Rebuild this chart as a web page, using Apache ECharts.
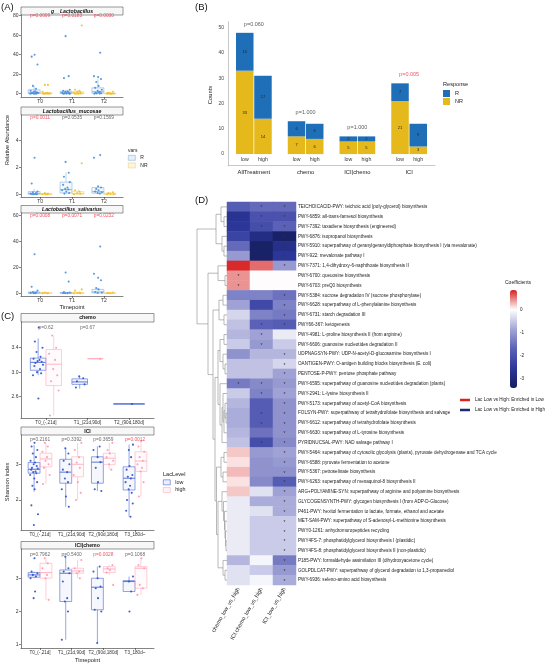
<!DOCTYPE html>
<html><head><meta charset="utf-8">
<script src="https://cdn.jsdelivr.net/npm/echarts@6/dist/echarts.min.js"></script>
<style>html,body{margin:0;padding:0;background:#fff}#c{width:560px;height:665px}</style>
</head><body><div id="c"></div>
<script>
// ================= DATA =================
// Panel A
const timepointsA = ['T0', 'T1', 'T2'];
const lacR_box  = [[0, 0.2, 1, 4, 8], [0, 0.2, 1, 2.5, 4], [0, 0.5, 2, 6, 15]];
const lacNR_box = [[0, 0, 0.2, 1, 2], [0, 0, 0.5, 2, 4], [0, 0, 0.1, 0.5, 1]];
const lacR_pts  = [[40, 38, 30, 8, 5, 3, 2.5, 2, 1.5, 1, 0.8, 0.5, 0.3, 0.2, 0.1, 0, 0],
                   [59, 18, 16, 4, 3, 2.5, 2, 1.5, 1, 0.5, 0.3, 0.2, 0.1, 0, 0],
                   [42, 18, 17, 15, 12, 8, 6, 4, 3, 2, 1.5, 1, 0.5, 0.3, 0.1, 0]];
const lacNR_pts = [[9, 9, 2, 1, 0.5, 0.3, 0.2, 0.1, 0, 0, 0],
                   [70, 4, 3, 2, 1.5, 1, 0.5, 0.3, 0.1, 0, 0],
                   [2, 1, 0.5, 0.3, 0.2, 0.1, 0, 0, 0]];
const lacP = ['p=0.0009', 'p=0.0183', 'p=0.0030'];
const lacPsig = [1, 1, 1];

const mucR_box  = [[0, 0.01, 0.05, 0.2, 0.4], [0, 0.1, 0.35, 0.9, 1.6], [0, 0.08, 0.2, 0.5, 0.6]];
const mucNR_box = [[0, 0, 0.01, 0.05, 0.1], [0, 0.01, 0.05, 0.2, 0.4], [0, 0, 0.02, 0.08, 0.15]];
const mucR_pts  = [[2.7, 0.8, 0.2, 0.15, 0.1, 0.05, 0.02, 0, 0, 0],
                   [2.4, 1.6, 1.3, 0.9, 0.7, 0.5, 0.4, 0.35, 0.3, 0.2, 0.1, 0.05],
                   [2.9, 2.7, 0.6, 0.5, 0.4, 0.3, 0.2, 0.15, 0.1, 0.05]];
const mucNR_pts = [[0.1, 0.05, 0.02, 0, 0], [2.3, 0.3, 0.2, 0.1, 0.05, 0], [0.15, 0.1, 0.05, 0, 0]];
const mucP = ['p=0.0011', 'p=0.0535', 'p=0.1569'];
const mucPsig = [1, 0, 0];

const salR_box  = [[0, 0, 0.3, 1, 2], [0, 0, 0.2, 0.5, 1], [0, 0.2, 1, 3, 4]];
const salNR_box = [[0, 0, 0.05, 0.2, 0.5], [0, 0, 0.1, 0.5, 1], [0, 0, 0.05, 0.2, 0.5]];
const salR_pts  = [[30, 5, 2, 1, 0.5, 0.3, 0.1, 0], [16, 9, 1, 0.5, 0.2, 0.1, 0], [36, 15, 12, 10, 4, 3, 1, 0.5, 0.2]];
const salNR_pts = [[0.5, 0.2, 0.1, 0], [3, 2, 0.5, 0.2, 0.1, 0], [0.5, 0.2, 0.1, 0]];
const salP = ['p=0.0008', 'p=0.0071', 'p=0.0232'];
const salPsig = [1, 1, 1];

// Panel C
const timepointsC3 = ['T0_(-,21d]', 'T1_(21d,90d]', 'T2_(90d,180d]'];
const timepointsC4 = ['T0_(-,21d]', 'T1_(21d,90d]', 'T2_(90d,180d]', 'T3_180d~'];
const chemoLow_box  = [[2.95, 3.03, 3.16, 3.23, 3.55], [2.73, 2.8, 2.84, 2.89, 2.93], [2.48, 2.48, 2.48, 2.48, 2.48]];
const chemoHigh_box = [[2.29, 2.78, 3.13, 3.37, 3.6], [3.22, 3.22, 3.22, 3.22, 3.22], null];
const chemoLow_pts  = [[3.73, 3.5, 3.4, 3.33, 3.25, 3.22, 3.2, 3.18, 3.17, 3.15, 3.12, 3.1, 3.05, 3.0, 2.98, 2.95, 2.57],
                       [2.93, 2.9, 2.85, 2.8, 2.75], [2.48]];
const chemoHigh_pts = [[3.6, 3.4, 3.3, 3.2, 3.05, 2.95, 2.85, 2.7, 2.29], [3.22], []];
const chemoP = ['p=0.62', 'p=0.67'];
const chemoPsig = [0, 0];

const iciLow_box  = [[2.23, 2.75, 2.86, 3.05, 3.54], [1.81, 2.47, 2.78, 3.14, 3.45], [2.25, 2.47, 3.06, 3.21, 3.5], [1.53, 2.28, 2.61, 2.93, 3.55]];
const iciHigh_box = [[2.45, 2.93, 3.15, 3.31, 3.6], [2.0, 2.65, 3.0, 3.21, 3.6], [2.85, 2.99, 3.17, 3.31, 3.6], [2.1, 2.8, 3.09, 3.35, 3.65]];
const iciLow_pts  = [[3.6, 3.5, 3.4, 3.3, 3.2, 3.1, 3.05, 3.0, 2.95, 2.9, 2.88, 2.85, 2.8, 2.78, 2.75, 2.7, 2.6, 2.5, 2.4, 2.3, 1.85, 1.6, 1.3],
                     [3.45, 3.3, 3.1, 3.0, 2.85, 2.78, 2.6, 2.5, 2.3, 2.1, 1.81],
                     [3.5, 3.4, 3.2, 3.06, 2.9, 2.5, 2.3, 2.25],
                     [3.55, 3.4, 3.2, 2.95, 2.85, 2.7, 2.65, 2.6, 2.5, 2.4, 2.3, 2.2, 2.0, 1.9, 1.7, 1.53]];
const iciHigh_pts = [[3.6, 3.5, 3.35, 3.2, 3.1, 3.0, 2.9, 2.7, 2.45],
                     [3.6, 3.4, 3.2, 3.05, 2.9, 2.7, 2.5, 2.2, 2.0],
                     [3.6, 3.4, 3.3, 3.2, 3.1, 3.0, 2.85],
                     [3.65, 3.5, 3.35, 3.2, 3.1, 3.0, 2.9, 2.8, 2.5, 2.1]];
const iciP = ['p=0.2161', 'p=0.3392', 'p=0.3659', 'p=0.0012'];
const iciPsig = [0, 0, 0, 1];

const icichLow_box  = [[3.0, 3.03, 3.1, 3.17, 3.2], [1.15, 2.3, 3.15, 3.25, 3.65], [1.05, 2.05, 2.73, 3.0, 3.35], [2.6, 2.6, 2.9, 2.93, 3.05]];
const icichHigh_box = [[2.35, 3.0, 3.17, 3.45, 3.6], [3.0, 3.15, 3.22, 3.3, 3.55], [3.1, 3.17, 3.28, 3.35, 3.4], [2.5, 2.7, 3.3, 3.35, 3.6]];
const icichLow_pts  = [[3.6, 3.2, 3.15, 3.1, 3.05, 3.0, 2.6, 2.4],
                       [3.65, 3.3, 3.2, 3.15, 2.9, 2.4, 2.3, 2.0, 1.15],
                       [3.35, 3.2, 3.0, 2.75, 2.7, 2.4, 2.05, 2.0, 1.05],
                       [3.05, 2.9, 2.6, 2.0]];
const icichHigh_pts = [[3.6, 3.45, 3.3, 3.1, 3.0, 2.35], [3.55, 3.3, 3.2, 3.15, 3.0], [3.4, 3.3, 3.25, 3.17, 2.8], [3.6, 3.4, 3.3, 2.8, 2.7, 2.5]];
const icichP = ['p=0.7962', 'p=0.5400', 'p=0.0028', 'p=0.1068'];
const icichPsig = [0, 0, 1, 0];

// Panel B
const treatGroups = ['AllTreatment', 'chemo', 'ICI|chemo', 'ICI'];
const nrLow  = [33, 7, 5, 21];
const rLow   = [15, 6, 2, 7];
const nrHigh = [14, 6, 5, 3];
const rHigh  = [17, 6, 2, 9];
const pB = ['p=0.060', 'p=1.000', 'p=1.000', 'p=0.005'];
const pBsig = [0, 0, 0, 1];
const countTicks = [0, 10, 20, 30, 40, 50];

// Panel D
const contrasts = ['chemo_low_vs_high', 'ICI.chemo_low_vs_high', 'ICI_low_vs_high'];
const pathways = [
 'TEICHOICACID-PWY: teichoic acid (poly-glycerol) biosynthesis',
 'PWY-6859: all-trans-farnesol biosynthesis',
 'PWY-7392: taxadiene biosynthesis (engineered)',
 'PWY-6876: isopropanol biosynthesis',
 'PWY-5910: superpathway of geranylgeranyldiphosphate biosynthesis I (via mevalonate)',
 'PWY-922: mevalonate pathway I',
 'PWY-7371: 1,4-dihydroxy-6-naphthoate biosynthesis II',
 'PWY-6700: queuosine biosynthesis',
 'PWY-6703: preQ0 biosynthesis',
 'PWY-5384: sucrose degradation IV (sucrose phosphorylase)',
 'PWY-6628: superpathway of L-phenylalanine biosynthesis',
 'PWY-6731: starch degradation III',
 'PWY66-367: ketogenesis',
 'PWY-4981: L-proline biosynthesis II (from arginine)',
 'PWY-6606: guanosine nucleotides degradation II',
 'UDPNAGSYN-PWY: UDP-N-acetyl-D-glucosamine biosynthesis I',
 'OANTIGEN-PWY: O-antigen building blocks biosynthesis (E. coli)',
 'PENTOSE-P-PWY: pentose phosphate pathway',
 'PWY-6595: superpathway of guanosine nucleotides degradation (plants)',
 'PWY-2941: L-lysine biosynthesis II',
 'PWY-5173: superpathway of acetyl-CoA biosynthesis',
 'FOLSYN-PWY: superpathway of tetrahydrofolate biosynthesis and salvage',
 'PWY-6612: superpathway of tetrahydrofolate biosynthesis',
 'PWY-6630: superpathway of L-tyrosine biosynthesis',
 'PYRIDNUCSAL-PWY: NAD salvage pathway I',
 'PWY-5464: superpathway of cytosolic glycolysis (plants), pyruvate dehydrogenase and TCA cycle',
 'PWY-6588: pyruvate fermentation to acetone',
 'PWY-5367: petroselinate biosynthesis',
 'PWY-6263: superpathway of menaquinol-8 biosynthesis II',
 'ARG+POLYAMINE-SYN: superpathway of arginine and polyamine biosynthesis',
 'GLYCOGENSYNTH-PWY: glycogen biosynthesis I (from ADP-D-Glucose)',
 'P461-PWY: hexitol fermentation to lactate, formate, ethanol and acetate',
 'MET-SAM-PWY: superpathway of S-adenosyl-L-methionine biosynthesis',
 'PWY0-1261: anhydromuropeptides recycling',
 'PWY4FS-7: phosphatidylglycerol biosynthesis I (plastidic)',
 'PWY4FS-8: phosphatidylglycerol biosynthesis II (non-plastidic)',
 'P185-PWY: formaldehyde assimilation III (dihydroxyacetone cycle)',
 'GOLPDLCAT-PWY: superpathway of glycerol degradation to 1,3-propanediol',
 'PWY-6936: seleno-amino acid biosynthesis'
];
const coefChemo    = [-1.8,-2.7,-2.6,-2.3,-1.6,-1.0,0.8,0.4,0.4,-1.3,-0.9,-0.4,-0.6,-0.7,-0.5,-1.1,-0.6,-0.6,-1.4,-0.5,-0.7,-0.8,-0.8,-0.7,-0.6,0.2,0.1,0.25,0.1,0.2,-0.2,-0.2,-0.2,-0.2,-0.2,-0.2,-0.7,-0.3,-0.3];
const coefICIchemo = [-1.6,-2.0,-2.1,-2.9,-3.3,-3.3,0.55,0,0,-1.3,-2.2,-1.3,-1.7,-0.9,-1.0,-0.7,-0.6,-0.6,-1.2,-1.3,-1.8,-1.8,-1.8,-1.5,-2.1,-1.0,-1.1,-1.1,-1.2,-0.3,-0.8,-0.3,-0.5,-0.5,-0.5,-0.5,-0.1,-0.5,-0.1];
const coefICI      = [-1.6,-2.0,-1.7,-3.3,-2.8,-2.6,-1.0,0,0,-1.5,-1.3,-1.4,-1.8,-0.2,-0.5,-0.7,-0.4,-0.9,-1.0,-0.9,-1.1,-1.1,-1.1,-1.1,-1.2,-0.9,-1.0,-1.1,-1.8,-0.9,-0.8,-0.8,-0.5,-0.5,-0.5,-0.5,-1.4,-1.0,-0.8];
const sigMarks = ['011','011','011','011','011','011','001','100','100','001','001','001','011','010','010','001','001','001','111','011','001','011','011','001','011','001','001','001','001','001','001','001','001','001','001','001','001','001','001'];
const coefTicks = [0, -1, -2, -3];
// hierarchical clustering merges: negative = leaf (row index + 1), positive = earlier merge (1-based), then height
const dendroMerges = [
 [-2,-3,3],[-1,1,6],[-5,-6,3],[-4,3,5],[2,4,11],[-8,-9,2],[-7,6,9],[-10,-11,4],[-12,-13,3],[8,9,8],
 [-14,-15,3],[-17,-18,2],[-16,12,4],[11,13,7],[-22,-23,1],[-21,15,2],[16,-24,3],[-20,17,4],[18,-25,5],[-19,19,7],
 [14,20,9],[-26,-27,3],[-28,-29,4],[22,23,6],[-35,-36,1],[-34,25,1.5],[-33,26,2],[-32,27,2.5],[-31,28,3.5],[-30,29,5],
 [-38,-39,2],[-37,31,4],[30,32,9],[24,33,10.5],[21,34,12],[10,35,14],[7,36,19],[5,37,30]
];

// ================= BUILD =================
const FONT = 'Liberation Sans, Arial, sans-serif';
const JITTER = [0.1,-0.6,0.8,-0.3,0.45,-0.85,0.25,-0.1,0.65,-0.5,0.9,-0.7,0.35,-0.2,0.55,-0.95,0.05,0.75,-0.4,0.15,-0.65,0.95,-0.05,0.5];
const STY = {
  R:   {stroke:'#86b6e3', fill:'rgba(134,182,227,0.10)', pt:'#4a8fd8'},
  NR:  {stroke:'#f3d36e', fill:'rgba(243,211,110,0.10)', pt:'#f2c02c'},
  low: {stroke:'#4a68d8', fill:'rgba(74,104,216,0.05)', pt:'#2d50c8'},
  high:{stroke:'#ffadbd', fill:'rgba(255,173,189,0.06)', pt:'#ff98ad'}
};
const grids = [], xAxes = [], yAxes = [], series = [], graphics = [], legends = [];
function addGrid(r) { grids.push(Object.assign({containLabel:false}, r)); return grids.length - 1; }

function boxRender(dodge, halfW, st) {
  return function (params, api) {
    const solo = api.value(6) === 1;
    const d = solo ? 0 : dodge, w = solo ? halfW * 2 : halfW;
    const cx = api.value(0) + d;
    const tl = api.coord([cx - w, api.value(4)]);
    const br = api.coord([cx + w, api.value(2)]);
    const md = api.coord([cx, api.value(3)]);
    const wMax = api.coord([cx, api.value(5)]);
    const wMin = api.coord([cx, api.value(1)]);
    const ls = {stroke: st.stroke, lineWidth: 0.6};
    return {type:'group', children:[
      {type:'line', shape:{x1:wMax[0], y1:wMax[1], x2:wMax[0], y2:tl[1]}, style:ls},
      {type:'line', shape:{x1:wMin[0], y1:wMin[1], x2:wMin[0], y2:br[1]}, style:ls},
      {type:'rect', shape:{x:tl[0], y:tl[1], width:br[0]-tl[0], height:Math.max(br[1]-tl[1], 0)}, style:{fill:st.fill, stroke:st.stroke, lineWidth:0.6}},
      {type:'line', shape:{x1:tl[0], y1:md[1], x2:br[0], y2:md[1]}, style:{stroke:st.stroke, lineWidth:0.9}}
    ]};
  };
}

function boxPanel(cfg) {
  const g = addGrid({left:cfg.left, top:cfg.top, width:cfg.width, height:cfg.height});
  const n = cfg.cats.length, idx = cfg.cats.map((_, i) => i);
  const xi = xAxes.length, yi = yAxes.length;
  xAxes.push({gridIndex:g, type:'value', min:-0.6, max:n-0.4, splitLine:{show:false},
    axisLine:{show:true, onZero:false, lineStyle:{color:'#333', width:0.6}},
    axisTick:{show:true, customValues:idx, length:2, lineStyle:{color:'#333', width:0.6}},
    axisLabel:{customValues:idx, formatter:v => cfg.cats[Math.round(v)], fontSize:cfg.xFont, color:'#333', margin:2.5, fontFamily:FONT},
    name:cfg.xName || '', nameLocation:'middle', nameGap:cfg.xNameGap || 8, nameTextStyle:{fontSize:5.8, color:'#222', fontFamily:FONT}});
  yAxes.push({gridIndex:g, type:'value', min:cfg.yMin, max:cfg.yMax, splitLine:{show:false},
    axisLine:{show:true, onZero:false, lineStyle:{color:'#333', width:0.6}},
    axisTick:{show:true, customValues:cfg.yTicks, length:2, lineStyle:{color:'#333', width:0.6}},
    axisLabel:{customValues:cfg.yTicks, formatter:v => cfg.yFmt(v), fontSize:5, color:'#333', margin:2.5, fontFamily:FONT}});
  graphics.push({type:'rect', shape:{x:cfg.left, y:cfg.top-cfg.stripH, width:cfg.width, height:cfg.stripH}, style:{fill:'#f7f7f7', stroke:'#555', lineWidth:0.6}});
  graphics.push({type:'text', x:cfg.left+cfg.width/2, y:cfg.top-cfg.stripH/2+0.3, style:{text:cfg.strip, fontFamily:FONT, fontSize:5.2, fontWeight:'bold', fontStyle:cfg.italic ? 'italic' : 'normal', fill:'#111', textAlign:'center', textVerticalAlign:'middle'}});
  cfg.groups.forEach((grp, gi) => {
    const other = cfg.groups[1 - gi];
    const dodge = (gi === 0 ? -1 : 1) * 0.1875;
    const boxData = [];
    grp.box.forEach((b, i) => { if (b) boxData.push([i, b[0], b[1], b[2], b[3], b[4], other.box[i] ? 0 : 1]); });
    series.push({type:'custom', name:grp.name, xAxisIndex:xi, yAxisIndex:yi, renderItem:boxRender(dodge, 0.1875, grp.st),
      data:boxData, encode:{x:0, y:[1,2,3,4,5]}, clip:false, z:2, silent:true, itemStyle:{color:grp.st.stroke}});
    const pts = [];
    grp.pts.forEach((arr, i) => {
      const d = other.box[i] ? dodge : 0;
      arr.forEach((v, k) => pts.push([i + d + JITTER[(k + i * 7 + gi * 3) % JITTER.length] * 0.13, v]));
    });
    series.push({type:'scatter', name:grp.name, xAxisIndex:xi, yAxisIndex:yi, data:pts, symbolSize:2.1,
      itemStyle:{color:grp.st.pt, opacity:0.9}, z:3, silent:true});
  });
  series.push({type:'scatter', xAxisIndex:xi, yAxisIndex:yi, symbolSize:0, silent:true, z:4,
    data:cfg.pvals.map((p, i) => ({value:[i, cfg.pY], label:{color:cfg.psig[i] ? '#e8283c' : '#444'}})),
    label:{show:true, position:'inside', formatter:p => cfg.pvals[p.dataIndex], fontSize:4.8, fontFamily:FONT}});
}

const f0 = v => String(Math.round(v));
const f1 = v => v.toFixed(1);
// Panel A
boxPanel({left:21, top:15, width:102, height:82, stripH:8, strip:'g__Lactobacillus', italic:true, cats:timepointsA, xFont:5,
  yMin:-3.4, yMax:80.7, yTicks:[0,20,40,60,80], yFmt:f0, pvals:lacP, psig:lacPsig, pY:79.7,
  groups:[{name:'R', st:STY.R, box:lacR_box, pts:lacR_pts}, {name:'NR', st:STY.NR, box:lacNR_box, pts:lacNR_pts}]});
boxPanel({left:21, top:115, width:102, height:82, stripH:8, strip:'Lactobacillus_mucosae', italic:true, cats:timepointsA, xFont:5,
  yMin:-0.2, yMax:5.87, yTicks:[0,2,4], yFmt:f0, pvals:mucP, psig:mucPsig, pY:5.65,
  groups:[{name:'R', st:STY.R, box:mucR_box, pts:mucR_pts}, {name:'NR', st:STY.NR, box:mucNR_box, pts:mucNR_pts}]});
boxPanel({left:21, top:213, width:102, height:83, stripH:7.5, strip:'Lactobacillus_salivarius', italic:true, cats:timepointsA, xFont:5,
  yMin:-2.1, yMax:61.8, yTicks:[0,20,40,60], yFmt:f0, pvals:salP, psig:salPsig, pY:59.5, xName:'Timepoint', xNameGap:8.5,
  groups:[{name:'R', st:STY.R, box:salR_box, pts:salR_pts}, {name:'NR', st:STY.NR, box:salNR_box, pts:salNR_pts}]});
// Panel C
boxPanel({left:21, top:322, width:133, height:96, stripH:8.5, strip:'chemo', cats:timepointsC3, xFont:4.6,
  yMin:2.25, yMax:3.82, yTicks:[2.6,3.0,3.4], yFmt:f1, pvals:chemoP, psig:chemoPsig, pY:3.73,
  groups:[{name:'low', st:STY.low, box:chemoLow_box, pts:chemoLow_pts}, {name:'high', st:STY.high, box:chemoHigh_box, pts:chemoHigh_pts}]});
boxPanel({left:21, top:435, width:133, height:95, stripH:8, strip:'ICI', cats:timepointsC4, xFont:4.6,
  yMin:1.16, yMax:3.82, yTicks:[2,3], yFmt:f0, pvals:iciP, psig:iciPsig, pY:3.68,
  groups:[{name:'low', st:STY.low, box:iciLow_box, pts:iciLow_pts}, {name:'high', st:STY.high, box:iciHigh_box, pts:iciHigh_pts}]});
boxPanel({left:21, top:549, width:133, height:99, stripH:7.5, strip:'ICI|chemo', cats:timepointsC4, xFont:4.6,
  yMin:0.9, yMax:3.88, yTicks:[1,2,3], yFmt:f0, pvals:icichP, psig:icichPsig, pY:3.7, xName:'Timepoint', xNameGap:9.5,
  groups:[{name:'low', st:STY.low, box:icichLow_box, pts:icichLow_pts}, {name:'high', st:STY.high, box:icichHigh_box, pts:icichHigh_pts}]});

// Panel B
const BLUE = '#1f6fb8', YEL = '#e5b81c';
const gB = addGrid({left:228, top:21.7, width:207, height:144});
const xB = xAxes.length, yB = yAxes.length;
xAxes.push({gridIndex:gB, type:'category', data:treatGroups, axisLine:{onZero:false, lineStyle:{color:'#bbb', width:0.8}}, axisTick:{show:false},
  axisLabel:{interval:0, fontSize:5.8, color:'#222', margin:4, fontFamily:FONT}});
yAxes.push({gridIndex:gB, type:'value', min:-4.6, max:52.4, splitLine:{show:false}, axisLine:{show:true, lineStyle:{color:'#bbb', width:0.8}},
  axisTick:{show:false}, axisLabel:{customValues:countTicks, fontSize:5, color:'#444', margin:4, fontFamily:FONT}});
const barLabel = {show:true, position:'inside', fontSize:4, color:'#222', fontFamily:FONT};
const lvlLabel = (txt) => ({type:'bar', stack:txt, xAxisIndex:xB, yAxisIndex:yB, barWidth:17.5, barGap:'4%', silent:true,
  data:treatGroups.map(() => 0), itemStyle:{color:'transparent'},
  label:{show:true, position:'bottom', distance:2.5, formatter:txt, fontSize:5.2, color:'#333', fontFamily:FONT}});
series.push(lvlLabel('low'));
series.push({type:'bar', name:'Resp_NR', stack:'low', xAxisIndex:xB, yAxisIndex:yB, barWidth:17.5, barGap:'4%', data:nrLow, itemStyle:{color:YEL}, label:barLabel, silent:true});
series.push({type:'bar', name:'Resp_R', stack:'low', xAxisIndex:xB, yAxisIndex:yB, barWidth:17.5, barGap:'4%', data:rLow, itemStyle:{color:BLUE}, label:barLabel, silent:true});
series.push(lvlLabel('high'));
series.push({type:'bar', name:'Resp_NR', stack:'high', xAxisIndex:xB, yAxisIndex:yB, barWidth:17.5, barGap:'4%', data:nrHigh, itemStyle:{color:YEL}, label:barLabel, silent:true});
series.push({type:'bar', name:'Resp_R', stack:'high', xAxisIndex:xB, yAxisIndex:yB, barWidth:17.5, barGap:'4%', data:rHigh, itemStyle:{color:BLUE}, label:barLabel, silent:true});
series.push({type:'scatter', xAxisIndex:xB, yAxisIndex:yB, symbolSize:0, silent:true, z:5,
  data:treatGroups.map((c, i) => ({value:[i, Math.max(nrLow[i] + rLow[i], nrHigh[i] + rHigh[i])], label:{color:pBsig[i] ? '#e8283c' : '#333'}})),
  label:{show:true, position:'top', distance:5.5, formatter:p => pB[p.dataIndex], fontSize:5.5, fontFamily:FONT}});

// Panel D heatmap
const gD = addGrid({left:227, top:202, width:69, height:383});
const xD = xAxes.length, yD = yAxes.length;
xAxes.push({gridIndex:gD, type:'category', data:contrasts, axisLine:{show:false}, axisTick:{show:false},
  axisLabel:{interval:0, rotate:60, fontSize:5.6, color:'#222', margin:3, fontFamily:FONT}});
yAxes.push({gridIndex:gD, type:'category', data:pathways, inverse:true, position:'right', axisLine:{show:false}, axisTick:{show:false},
  axisLabel:{interval:0, fontSize:4.6, color:'#222', margin:2, fontFamily:FONT}});
const coefCols = [coefChemo, coefICIchemo, coefICI];
const heatData = [];
pathways.forEach((p, r) => coefCols.forEach((col, c) => heatData.push([c, r, col[r]])));
const heatIdx = series.length;
series.push({type:'heatmap', xAxisIndex:xD, yAxisIndex:yD, data:heatData, silent:true,
  label:{show:true, formatter:p => sigMarks[p.value[1]][p.value[0]] === '1' ? '*' : '', fontSize:5, color:'#333', offset:[0, 1.2], fontFamily:FONT}});

// dendrogram
const gDen = addGrid({left:197, top:202, width:30, height:383});
const xDen = xAxes.length, yDen = yAxes.length;
xAxes.push({gridIndex:gDen, type:'value', min:0, max:30, inverse:true, show:false});
yAxes.push({gridIndex:gDen, type:'value', min:-0.5, max:pathways.length - 0.5, inverse:true, show:false});
const nodeY = [], nodeH = [];
const childPos = c => c < 0 ? [-c - 1, 0] : [nodeY[c - 1], nodeH[c - 1]];
const denData = dendroMerges.map(([a, b, h], k) => {
  const A = childPos(a), B = childPos(b);
  nodeY[k] = (A[0] + B[0]) / 2; nodeH[k] = h;
  return [A[0], A[1], B[0], B[1], h];
});
series.push({type:'custom', xAxisIndex:xDen, yAxisIndex:yDen, data:denData, encode:{x:[1,3,4], y:[0,2]}, silent:true, clip:false,
  renderItem:(params, api) => {
    const p1 = api.coord([api.value(1), api.value(0)]), p2 = api.coord([api.value(4), api.value(0)]);
    const p3 = api.coord([api.value(4), api.value(2)]), p4 = api.coord([api.value(3), api.value(2)]);
    return {type:'polyline', shape:{points:[p1, p2, p3, p4]}, style:{stroke:'#8a8a8a', lineWidth:0.6, fill:null}};
  }});

// colorbar tick axis
const gCB = addGrid({left:510, top:290, width:7, height:98});
const xCB = xAxes.length, yCB = yAxes.length;
xAxes.push({gridIndex:gCB, type:'value', show:false});
yAxes.push({gridIndex:gCB, type:'value', min:-3.42, max:0.84, position:'right', splitLine:{show:false}, axisLine:{show:false},
  axisTick:{show:false}, axisLabel:{customValues:coefTicks, fontSize:4.6, color:'#222', margin:3, fontFamily:FONT}});
series.push({type:'line', name:'Lac Low vs High: Enriched in Low', xAxisIndex:xCB, yAxisIndex:yCB, data:[], itemStyle:{color:'#e0201f'}});
series.push({type:'line', name:'Lac Low vs High: Enriched in High', xAxisIndex:xCB, yAxisIndex:yCB, data:[], itemStyle:{color:'#1c2a78'}});

// legends
const lt = {fontSize:5, color:'#222', fontFamily:FONT};
legends.push({left:128, top:155, orient:'vertical', padding:0, itemGap:2, itemWidth:7, itemHeight:5, selectedMode:false, textStyle:lt,
  data:[{name:'R', icon:'rect', itemStyle:{color:'rgba(134,182,227,0.2)', borderColor:STY.R.stroke, borderWidth:0.6}},
        {name:'NR', icon:'rect', itemStyle:{color:'rgba(243,211,110,0.2)', borderColor:STY.NR.stroke, borderWidth:0.6}}]});
legends.push({left:163, top:479.5, orient:'vertical', padding:0, itemGap:2, itemWidth:7, itemHeight:5, selectedMode:false, textStyle:Object.assign({}, lt, {fontSize:5.4}),
  data:[{name:'low', icon:'rect', itemStyle:{color:'rgba(74,104,216,0.1)', borderColor:STY.low.stroke, borderWidth:0.6}},
        {name:'high', icon:'rect', itemStyle:{color:'rgba(255,173,189,0.15)', borderColor:STY.high.stroke, borderWidth:0.6}}]});
legends.push({left:443, top:90, orient:'vertical', padding:0, itemGap:1, itemWidth:7, itemHeight:7, selectedMode:false,
  textStyle:Object.assign({}, lt, {fontSize:5.5}), formatter:n => n.replace('Resp_', ''),
  data:[{name:'Resp_R', icon:'rect', itemStyle:{color:BLUE}}, {name:'Resp_NR', icon:'rect', itemStyle:{color:YEL}}]});
legends.push({left:460, top:397.5, orient:'vertical', padding:0, itemGap:5, itemWidth:10, itemHeight:2.5, selectedMode:false,
  textStyle:Object.assign({}, lt, {fontSize:4.6}),
  data:[{name:'Lac Low vs High: Enriched in Low', icon:'rect'}, {name:'Lac Low vs High: Enriched in High', icon:'rect'}]});

// free texts
const txt = (t, x, y, o) => graphics.push(Object.assign({type:'text', x, y, style:Object.assign({text:t, fontFamily:FONT, fontSize:5.5, fill:'#222', textAlign:'left', textVerticalAlign:'middle'}, (o && o.style) || {})}, o ? {rotation:o.rotation || 0} : {}));
txt('(A)', 1, 7, {style:{fontSize:9.5, fill:'#111'}});
txt('(B)', 195, 7, {style:{fontSize:9.5, fill:'#111'}});
txt('(C)', 1, 316, {style:{fontSize:9.5, fill:'#111'}});
txt('(D)', 195, 200, {style:{fontSize:9.5, fill:'#111'}});
txt('vars', 128, 151, {style:{fontSize:5}});
txt('LacLevel', 163, 474, {style:{fontSize:5.6}});
txt('Response', 443, 84.5, {style:{fontSize:5.6}});
txt('Coefficients', 505, 282.5, {style:{fontSize:5}});
txt('Relative Abundance', 7, 140, {rotation:Math.PI / 2, style:{textAlign:'center', fontSize:5.6}});
txt('Shannon index', 7, 482, {rotation:Math.PI / 2, style:{textAlign:'center', fontSize:5.8}});
txt('Counts', 210.5, 95, {rotation:Math.PI / 2, style:{textAlign:'center', fontSize:5.8}});

const chart = echarts.init(document.getElementById('c'), null, {renderer:'canvas'});
chart.setOption({
  animation:false, backgroundColor:'#ffffff',
  textStyle:{fontFamily:FONT},
  grid:grids, xAxis:xAxes, yAxis:yAxes, series:series, legend:legends,
  visualMap:[{type:'continuous', seriesIndex:heatIdx, dimension:2, min:-3.42, max:0.84, left:510, top:290, itemWidth:7, itemHeight:98,
    calculable:false, padding:0, orient:'vertical', text:null, hoverLink:false,
    inRange:{color:['#161e5e', '#2c379a', '#5a60b6', '#a3a5d6', '#ffffff', '#d62020']}}],
  graphic:graphics
});
</script></body></html>
